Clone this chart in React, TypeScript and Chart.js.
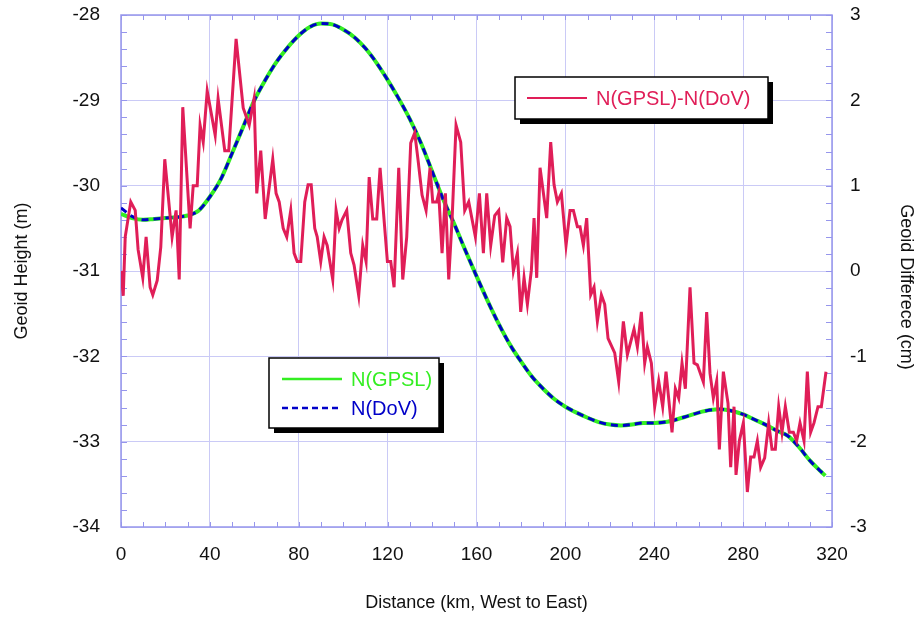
import React, { useEffect, useRef } from "react";
import { Chart, registerables } from "chart.js";

Chart.register(...registerables);

// Geoid profile along the traverse (km from the western end)
const profileKm = [
  0, 5, 10, 15, 20, 25, 30, 35, 40, 45, 50, 55, 60, 65, 70, 75, 80, 85, 90, 95,
  100, 105, 110, 115, 120, 125, 130, 135, 140, 145, 150, 155, 160, 165, 170, 175,
  180, 185, 190, 195, 200, 205, 210, 215, 220, 225, 230, 235, 240, 245, 250, 255,
  260, 265, 270, 275, 280, 285, 290, 295, 300, 305, 310, 315, 317,
];

// N(GPSL) geoid height, metres
const geoidGPSL = [
  -30.33, -30.38, -30.4, -30.39, -30.38, -30.37, -30.35, -30.29, -30.13, -29.92,
  -29.62, -29.31, -29.0, -28.76, -28.55, -28.38, -28.24, -28.14, -28.1, -28.11,
  -28.17, -28.26, -28.39, -28.56, -28.76, -28.98, -29.22, -29.5, -29.83, -30.16,
  -30.45, -30.76, -31.06, -31.35, -31.62, -31.86, -32.06, -32.24, -32.38, -32.5,
  -32.59, -32.66, -32.72, -32.77, -32.8, -32.81, -32.8, -32.78, -32.78, -32.77,
  -32.74, -32.7, -32.66, -32.63, -32.62, -32.64, -32.68, -32.74, -32.8, -32.87,
  -32.93, -33.06, -33.22, -33.35, -33.4,
];

// N(DoV) geoid height, metres
const geoidDoV = [
  -30.26, -30.36, -30.4, -30.39, -30.38, -30.37, -30.35, -30.29, -30.13, -29.92,
  -29.62, -29.31, -29.0, -28.76, -28.55, -28.38, -28.24, -28.14, -28.1, -28.11,
  -28.17, -28.26, -28.39, -28.56, -28.76, -28.98, -29.22, -29.5, -29.83, -30.16,
  -30.45, -30.76, -31.06, -31.35, -31.62, -31.86, -32.06, -32.24, -32.38, -32.5,
  -32.59, -32.66, -32.72, -32.77, -32.8, -32.81, -32.8, -32.78, -32.78, -32.77,
  -32.74, -32.7, -32.66, -32.63, -32.62, -32.64, -32.68, -32.74, -32.8, -32.87,
  -32.93, -33.06, -33.22, -33.35, -33.4,
];

// Station distances for the difference series, km
const diffKm = [
  0, 1.0, 1.9, 4.4, 6.4, 7.7, 9.8, 11.3, 13.1, 14.3, 16.3, 17.9, 19.7, 23.0, 24.8,
  26.2, 27.8, 31.1, 32.5, 34.3, 35.6, 37.0, 38.8, 42.4, 43.7, 46.7, 48.5, 51.8,
  55.0, 57.7, 59.9, 61.1, 62.9, 64.9, 68.3, 69.8, 71.2, 73.0, 74.6, 76.4, 77.9,
  79.3, 80.9, 82.7, 84.2, 85.6, 87.2, 88.3, 89.9, 91.4, 92.8, 95.3, 96.8, 98.2,
  99.5, 101.6, 103.4, 104.9, 107.0, 108.8, 110.3, 111.7, 113.3, 115.1, 116.6,
  118.4, 119.9, 121.4, 122.9, 125.0, 126.8, 128.6, 130.4, 132.2, 133.7, 135.5,
  137.3, 139.1, 140.3, 142.1, 143.0, 144.5, 146.0, 147.5, 149.0, 150.8, 152.9,
  154.7, 156.5, 159.5, 161.3, 163.1, 164.6, 166.4, 168.2, 170.0, 171.8, 173.6,
  175.1, 176.6, 178.4, 179.9, 181.4, 182.9, 184.7, 185.9, 187.1, 188.6, 191.6,
  193.4, 194.9, 196.4, 198.2, 200.3, 202.1, 203.6, 205.4, 206.6, 208.1, 209.6,
  211.4, 212.9, 214.4, 216.2, 217.7, 219.2, 222.2, 224.0, 226.1, 227.9, 230.9,
  232.4, 234.2, 235.7, 236.9, 238.7, 240.2, 242.0, 243.8, 245.3, 248.0, 249.5,
  251.0, 252.5, 254.0, 256.1, 257.9, 259.4, 262.1, 263.6, 265.1, 266.6, 268.1,
  269.3, 271.1, 273.2, 274.4, 275.9, 276.8, 278.3, 280.1, 281.9, 283.4, 284.9,
  286.4, 287.9, 289.7, 291.5, 293.0, 294.5, 296.0, 297.5, 299.0, 300.8, 302.6,
  304.1, 305.6, 307.4, 308.9, 310.4, 311.9, 313.7, 315.2, 317.3,
];

// N(GPSL) - N(DoV), centimetres
const diffCm = [
  0.0, -0.29, 0.4, 0.81, 0.71, 0.25, -0.08, 0.4, -0.19, -0.28, -0.11, 0.28, 1.31,
  0.4, 0.71, -0.1, 1.92, 0.5, 1.0, 1.0, 1.71, 1.51, 2.11, 1.59, 2.02, 1.41, 1.41,
  2.72, 1.91, 1.71, 2.02, 0.91, 1.41, 0.61, 1.31, 0.91, 0.81, 0.5, 0.4, 0.71,
  0.21, 0.11, 0.11, 0.81, 1.01, 1.01, 0.5, 0.4, 0.11, 0.4, 0.3, -0.1, 0.71, 0.5,
  0.6, 0.71, 0.21, 0.07, -0.29, 0.3, 0.11, 1.1, 0.61, 0.61, 1.21, 0.6, 0.11,
  0.11, -0.19, 1.21, -0.1, 0.4, 1.5, 1.62, 1.3, 0.89, 0.71, 1.21, 0.81, 0.81,
  0.91, 0.21, 0.91, -0.1, 0.6, 1.71, 1.51, 0.71, 0.81, 0.4, 0.91, 0.21, 0.91,
  0.3, 0.65, 0.71, 0.1, 0.62, 0.52, 0.0, 0.21, -0.48, -0.08, -0.39, 0.01, 0.62,
  -0.08, 1.21, 0.62, 1.51, 1.01, 0.81, 0.91, 0.3, 0.71, 0.71, 0.52, 0.52, 0.3,
  0.62, -0.28, -0.19, -0.59, -0.28, -0.39, -0.79, -0.96, -1.3, -0.59, -0.98,
  -0.68, -0.89, -0.48, -1.08, -0.89, -1.08, -1.59, -1.29, -1.59, -1.18, -1.89,
  -1.38, -1.49, -1.08, -1.38, -0.19, -1.08, -1.1, -1.3, -0.48, -1.2, -1.49,
  -1.29, -2.09, -1.18, -1.55, -2.3, -1.59, -2.39, -1.99, -1.78, -2.59, -2.18,
  -2.18, -1.99, -2.3, -2.19, -1.78, -2.09, -2.09, -1.59, -1.89, -1.59, -1.89,
  -1.89, -1.99, -1.78, -1.99, -1.18, -1.89, -1.78, -1.59, -1.59, -1.18,
];

const xTicks = [0, 40, 80, 120, 160, 200, 240, 280, 320];
const heightTicks = [-34, -33, -32, -31, -30, -29, -28];
const diffTicks = [-3, -2, -1, 0, 1, 2, 3];

const RED = "rgb(224, 30, 88)";
const GREEN = "rgb(52, 238, 34)";
const BLUE = "rgb(0, 0, 200)";
const GRID = "rgb(202, 202, 246)";
const FRAME = "rgb(150, 150, 236)";
const FONT = "'Liberation Sans', Arial, sans-serif";

const decorations = {
  id: "decorations",
  beforeDatasetsDraw(chart: any) {
    const { ctx, chartArea: a, scales } = chart;
    ctx.save();
    ctx.strokeStyle = FRAME;
    ctx.lineWidth = 1;
    // minor ticks along the distance axis, top and bottom
    for (let km = 0; km <= 320; km += 10) {
      const px = Math.round(scales.x.getPixelForValue(km)) + 0.5;
      ctx.beginPath();
      ctx.moveTo(px, a.bottom);
      ctx.lineTo(px, a.bottom - 5);
      ctx.moveTo(px, a.top);
      ctx.lineTo(px, a.top + 5);
      ctx.stroke();
    }
    // minor ticks on both vertical axes
    for (let i = 0; i <= 30; i++) {
      const v = -34 + i * 0.2;
      const py = Math.round(scales.y.getPixelForValue(v)) + 0.5;
      ctx.beginPath();
      ctx.moveTo(a.left, py);
      ctx.lineTo(a.left + 6, py);
      ctx.moveTo(a.right, py);
      ctx.lineTo(a.right - 6, py);
      ctx.stroke();
    }
    ctx.lineWidth = 1.5;
    ctx.strokeRect(a.left, a.top, a.right - a.left, a.bottom - a.top);
    ctx.restore();
  },
  afterDraw(chart: any) {
    const { ctx, chartArea: a } = chart;
    ctx.save();
    ctx.fillStyle = "#111";
    ctx.font = `18px ${FONT}`;
    ctx.textAlign = "center";
    ctx.textBaseline = "middle";
    // axis titles
    ctx.fillText("Distance (km, West to East)", (a.left + a.right) / 2, 603);
    ctx.save();
    ctx.translate(22, (a.top + a.bottom) / 2);
    ctx.rotate(-Math.PI / 2);
    ctx.fillText("Geoid Height (m)", 0, 0);
    ctx.restore();
    ctx.save();
    ctx.translate(906, 287);
    ctx.rotate(Math.PI / 2);
    ctx.fillText("Geoid Differece (cm)", 0, 0);
    ctx.restore();

    // legend boxes with drop shadows
    const box = (x: number, y: number, w: number, h: number) => {
      ctx.fillStyle = "#000";
      ctx.fillRect(x + 5, y + 5, w, h);
      ctx.fillStyle = "#fff";
      ctx.fillRect(x, y, w, h);
      ctx.strokeStyle = "#000";
      ctx.lineWidth = 1.5;
      ctx.strokeRect(x, y, w, h);
    };
    const entry = (x: number, y: number, color: string, dash: number[], label: string, width: number) => {
      ctx.strokeStyle = color;
      ctx.lineWidth = width;
      ctx.setLineDash(dash);
      ctx.beginPath();
      ctx.moveTo(x, y);
      ctx.lineTo(x + 60, y);
      ctx.stroke();
      ctx.setLineDash([]);
      ctx.fillStyle = color;
      ctx.font = `20px ${FONT}`;
      ctx.textAlign = "left";
      ctx.textBaseline = "middle";
      ctx.fillText(label, x + 69, y + 1);
    };
    box(515, 77, 253, 42);
    entry(527, 98, RED, [], "N(GPSL)-N(DoV)", 2);
    box(269, 358, 170, 70);
    entry(282, 379, GREEN, [], "N(GPSL)", 2.5);
    entry(282, 408, BLUE, [6, 4], "N(DoV)", 2.5);
    ctx.restore();
  },
};

// Fix an axis box width and keep its labels from pushing the plot area down
const fixVertical = (width: number) => (s: any) => {
  s.width = width;
  s.paddingTop = 0;
  s.paddingBottom = 0;
};

export default function App() {
  const ref = useRef<HTMLCanvasElement | null>(null);

  useEffect(() => {
    document.body.style.margin = "0";
    const canvas = ref.current;
    if (!canvas) return;

    const tickFont = { family: FONT, size: 19, lineHeight: 1 };
    const chart = new Chart(canvas, {
      type: "line",
      data: {
        datasets: [
          {
            label: "N(GPSL)-N(DoV)",
            data: diffKm.map((x, i) => ({ x, y: diffCm[i] })),
            yAxisID: "y2",
            borderColor: RED,
            borderWidth: 3,
            pointRadius: 0,
            tension: 0,
            order: 0,
          },
          {
            label: "N(DoV)",
            data: profileKm.map((x, i) => ({ x, y: geoidDoV[i] })),
            yAxisID: "y",
            borderColor: BLUE,
            borderWidth: 3,
            borderDash: [7, 5],
            pointRadius: 0,
            cubicInterpolationMode: "monotone",
            order: 1,
          },
          {
            label: "N(GPSL)",
            data: profileKm.map((x, i) => ({ x, y: geoidGPSL[i] })),
            yAxisID: "y",
            borderColor: GREEN,
            borderWidth: 4,
            pointRadius: 0,
            cubicInterpolationMode: "monotone",
            order: 2,
          },
        ],
      },
      options: {
        responsive: false,
        animation: false,
        layout: { padding: { top: 15, left: 0, right: 0, bottom: 0 } },
        plugins: { legend: { display: false }, tooltip: { enabled: false } },
        scales: {
          x: {
            type: "linear",
            min: 0,
            max: 320,
            afterBuildTicks: (s: any) => {
              s.ticks = xTicks.map((value) => ({ value }));
            },
            afterFit: (s: any) => {
              s.height = 90;
              s.paddingLeft = 0;
              s.paddingRight = 0;
            },
            ticks: { color: "#111", font: tickFont, padding: 18, maxRotation: 0 },
            grid: { color: GRID, drawTicks: false },
            border: { display: false },
          },
          y: {
            type: "linear",
            position: "left",
            min: -34,
            max: -28,
            afterBuildTicks: (s: any) => {
              s.ticks = heightTicks.map((value) => ({ value }));
            },
            afterFit: fixVertical(121),
            ticks: { color: "#111", font: tickFont, padding: 21 },
            grid: { color: GRID, drawTicks: false },
            border: { display: false },
          },
          y2: {
            type: "linear",
            position: "right",
            min: -3,
            max: 3,
            afterBuildTicks: (s: any) => {
              s.ticks = diffTicks.map((value) => ({ value }));
            },
            afterFit: fixVertical(89),
            ticks: { color: "#111", font: tickFont, padding: 18 },
            grid: { drawOnChartArea: false, drawTicks: false },
            border: { display: false },
          },
        },
      },
      plugins: [decorations],
    });

    return () => chart.destroy();
  }, []);

  return <canvas ref={ref} width={921} height={617} style={{ display: "block" }} />;
}
